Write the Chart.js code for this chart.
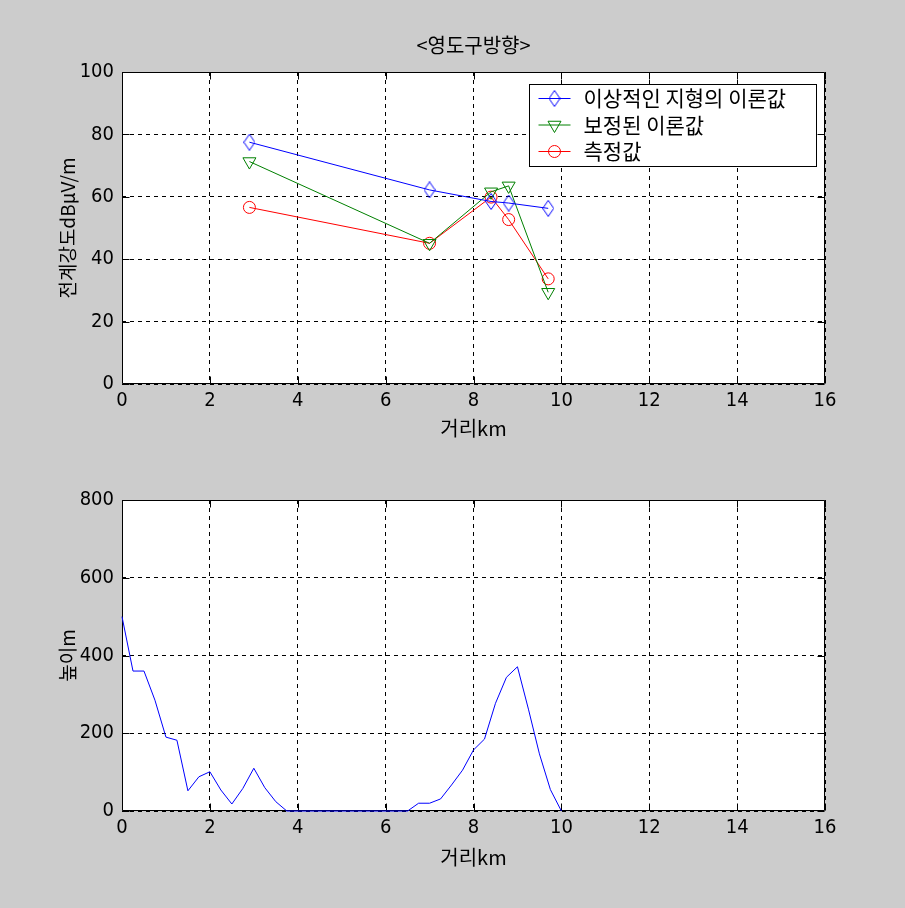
<!DOCTYPE html>
<html>
<head>
<meta charset="utf-8">
<script src="https://cdn.jsdelivr.net/npm/chart.js@4.4.1/dist/chart.umd.min.js"></script>
<style>
  html, body { margin: 0; padding: 0; background: #cccccc; }
  #wrap { position: relative; width: 905px; height: 908px; }
  canvas { position: absolute; left: 0; }
</style>
</head>
<body>
<div id="wrap">
  <canvas id="fieldChart" width="905" height="450" style="top:0px"></canvas>
  <canvas id="terrainChart" width="905" height="458" style="top:450px"></canvas>
</div>
<script>
// measuring points (km) and field strength (dBuV/m)
const distKm = [2.9, 7.0, 8.4, 8.8, 9.7];
const idealTheory = [77.5, 62.2, 58.5, 58.0, 56.3];
const correctedTheory = [71.3, 45.1, 61.6, 63.5, 29.4];
const measured = [56.6, 45.1, 59.9, 52.7, 33.7];
const seriesNames = ['이상적인 지형의 이론값', '보정된 이론값', '측정값'];

// terrain profile
const profileKm = [0, 0.25, 0.5, 0.75, 1, 1.25, 1.5, 1.75, 2, 2.25, 2.5, 2.75, 3, 3.25, 3.5, 3.75,
  6.5, 6.75, 7, 7.25, 7.5, 7.75, 8, 8.25, 8.5, 8.75, 9, 9.25, 9.5, 9.75, 10];
const heightM = [500, 360, 360, 285, 190, 182, 52, 88, 101, 54, 18, 58, 110, 60, 24, 0,
  0, 20, 20, 31, 67, 105, 157, 185, 277, 344, 371, 262, 147, 55, 0];

const fieldTicks = { min: 0, max: 100, step: 20 };
const heightTicks = { min: 0, max: 800, step: 200 };
const kmTicks = { min: 0, max: 16, step: 2 };

const KR = '"Noto Sans CJK KR", sans-serif';
const NUM = '"Liberation Sans Narrow", "DejaVu Sans Condensed", "Liberation Sans", sans-serif';

// tall hollow diamond like matlab's 'd' marker
function diamondMarker(color) {
  const c = document.createElement('canvas');
  c.width = 12; c.height = 17;
  const g = c.getContext('2d');
  g.strokeStyle = color;
  g.lineWidth = 1;
  g.beginPath();
  g.moveTo(6, 0.5); g.lineTo(11.5, 8.5); g.lineTo(6, 16.5); g.lineTo(0.5, 8.5);
  g.closePath();
  g.stroke();
  return c;
}

const matlabFrame = {
  id: 'matlabFrame',
  beforeDraw(chart) {
    const { ctx, chartArea: a } = chart;
    ctx.save();
    ctx.fillStyle = '#cccccc';
    ctx.fillRect(0, 0, chart.width, chart.height);
    ctx.fillStyle = '#ffffff';
    ctx.fillRect(a.left, a.top, a.right - a.left, a.bottom - a.top);
    ctx.restore();
  },
  beforeDatasetsDraw(chart) {
    const { ctx, chartArea: a, scales } = chart;
    const L = Math.round(a.left) + 0.5, R = Math.round(a.right) - 0.5;
    const T = Math.round(a.top) + 0.5, B = Math.round(a.bottom) - 0.5;
    ctx.save();
    ctx.strokeStyle = '#000';
    ctx.lineWidth = 1;
    ctx.setLineDash([]);
    ctx.beginPath();
    ctx.rect(L, T, R - L, B - T);
    // inward ticks on all four sides
    scales.x.ticks.forEach(t => {
      const px = Math.round(scales.x.getPixelForValue(t.value)) + 0.5;
      ctx.moveTo(px, B); ctx.lineTo(px, B - 7);
      ctx.moveTo(px, T); ctx.lineTo(px, T + 7);
    });
    scales.y.ticks.forEach(t => {
      const py = Math.round(scales.y.getPixelForValue(t.value)) + 0.5;
      ctx.moveTo(L, py); ctx.lineTo(L + 7, py);
      ctx.moveTo(R, py); ctx.lineTo(R - 7, py);
    });
    ctx.stroke();
    ctx.restore();
  },
  afterDraw(chart, args, opts) {
    const { ctx, chartArea: a } = chart;
    const R = Math.round(a.right) - 0.5, T = Math.round(a.top) + 0.5;
    ctx.save();
    if (opts.title) {
      ctx.fillStyle = '#000';
      ctx.font = '20px ' + KR;
      ctx.textAlign = 'center';
      ctx.textBaseline = 'middle';
      ctx.fillText(opts.title, (a.left + a.right) / 2, a.top - 27);
    }

    if (opts.legend) {
      const bx = R - 8, by = T + 12, bw = 287, bh = 82;
      ctx.fillStyle = '#fff';
      ctx.fillRect(bx - bw, by, bw, bh);
      ctx.strokeStyle = '#000';
      ctx.lineWidth = 1;
      ctx.strokeRect(bx - bw, by, bw, bh);
      chart.data.datasets.forEach((ds, i) => {
        const y = by + 14 + i * 26.5;
        const x0 = bx - bw + 9;
        ctx.strokeStyle = ds.borderColor;
        ctx.lineWidth = 1;
        ctx.beginPath();
        ctx.moveTo(x0, y); ctx.lineTo(x0 + 32, y);
        ctx.stroke();
        ctx.fillStyle = 'rgba(0,0,0,0)';
        Chart.helpers.drawPoint(ctx, {
          pointStyle: ds.pointStyle, radius: ds.pointRadius,
          rotation: ds.pointRotation || 0, borderWidth: 1
        }, x0 + 16, y);
        ctx.fillStyle = '#000';
        ctx.font = '21px ' + KR;
        ctx.textAlign = 'left';
        ctx.textBaseline = 'middle';
        ctx.fillText(ds.label, x0 + 45, y);
      });
    }
    ctx.restore();
  }
};

function axes(yRange, yTitle, yTitlePad, xHeight, xTitlePad) {
  return {
    x: {
      type: 'linear', min: kmTicks.min, max: kmTicks.max,
      afterFit: s => { s.height = xHeight; },
      ticks: { stepSize: kmTicks.step, color: '#000', padding: 5, maxRotation: 0,
               font: { family: NUM, size: 20 } },
      grid: { color: '#000', lineWidth: 1, drawTicks: false },
      border: { display: false, dash: [4, 4] },
      title: { display: true, text: '거리km', color: '#000',
               font: { family: KR, size: 20 }, padding: { top: 0, bottom: xTitlePad } }
    },
    y: {
      type: 'linear', min: yRange.min, max: yRange.max,
      afterFit: s => { s.width = 122; },
      ticks: { stepSize: yRange.step, color: '#000', padding: 8,
               font: { family: NUM, size: 20 } },
      grid: { color: '#000', lineWidth: 1, drawTicks: false },
      border: { display: false, dash: [4, 4] },
      title: { display: true, text: yTitle, color: '#000',
               font: { family: KR, size: 19 }, padding: { top: yTitlePad, bottom: 0 } }
    }
  };
}

const pts = ys => distKm.map((x, i) => ({ x: x, y: ys[i] }));

new Chart(document.getElementById('fieldChart'), {
  type: 'scatter',
  data: {
    datasets: [{
      label: seriesNames[0], data: pts(idealTheory), showLine: true,
      borderColor: '#0000ff', borderWidth: 1, backgroundColor: 'rgba(0,0,0,0)',
      pointStyle: diamondMarker('#0000ff'), pointRadius: 7, pointBorderWidth: 1
    }, {
      label: seriesNames[1], data: pts(correctedTheory), showLine: true,
      borderColor: '#008000', borderWidth: 1, backgroundColor: 'rgba(0,0,0,0)',
      pointStyle: 'triangle', pointRotation: 180, pointRadius: 7.5, pointBorderWidth: 1
    }, {
      label: seriesNames[2], data: pts(measured), showLine: true,
      borderColor: '#ff0000', borderWidth: 1, backgroundColor: 'rgba(0,0,0,0)',
      pointStyle: 'circle', pointRadius: 6, pointBorderWidth: 1
    }]
  },
  options: {
    responsive: false,
    animation: false,
    layout: { padding: { left: 0, top: 72, right: 80, bottom: 0 } },
    scales: axes(fieldTicks, '전계강도dBμV/m', 56, 66, 10),
    plugins: {
      legend: { display: false },
      tooltip: { enabled: false },
      matlabFrame: { title: '<영도구방향>', legend: true }
    }
  },
  plugins: [matlabFrame]
});

new Chart(document.getElementById('terrainChart'), {
  type: 'line',
  data: {
    datasets: [{
      label: '높이', data: profileKm.map((x, i) => ({ x: x, y: heightM[i] })),
      borderColor: '#0000ff', borderWidth: 1, pointRadius: 0, tension: 0, fill: false,
      clip: 2
    }]
  },
  options: {
    responsive: false,
    animation: false,
    layout: { padding: { left: 0, top: 50, right: 80, bottom: 0 } },
    scales: axes(heightTicks, '높이m', 56, 97, 39),
    plugins: {
      legend: { display: false },
      tooltip: { enabled: false },
      matlabFrame: {}
    }
  },
  plugins: [matlabFrame]
});
</script>
</body>
</html>
